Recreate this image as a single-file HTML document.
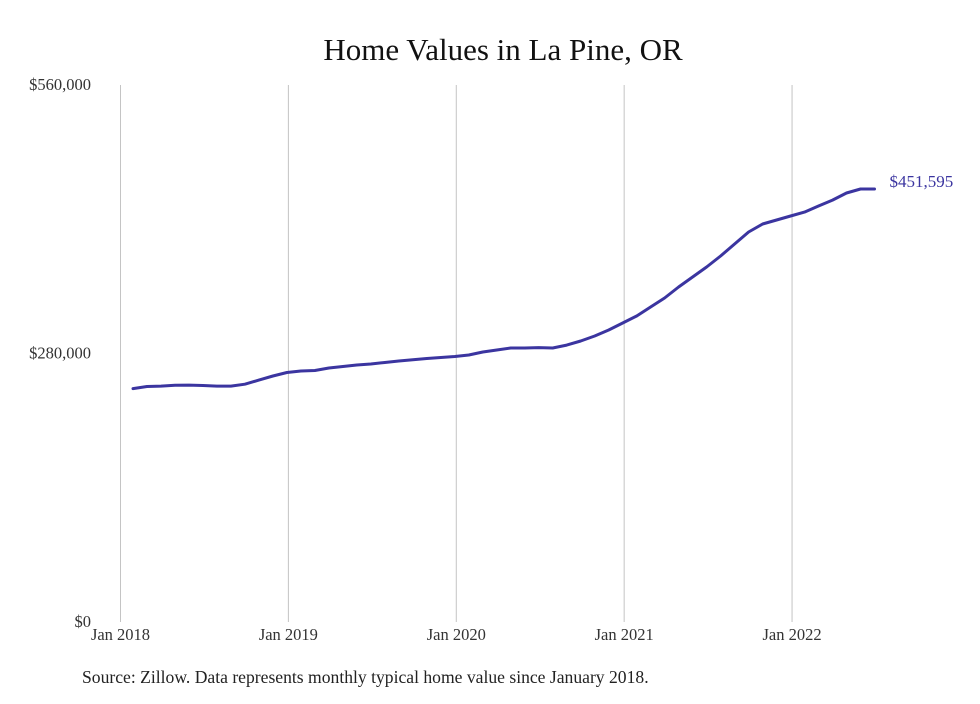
<!DOCTYPE html>
<html><head><meta charset="utf-8"><style>
body{margin:0;background:#fff;}
svg text{font-family:"Liberation Serif",serif;}
</style></head><body>
<svg width="980" height="699" id="c">
<text x="503" y="60" text-anchor="middle" font-size="31" fill="#111">Home Values in La Pine, OR</text>
<text x="82" y="683" font-size="17.6" fill="#222">Source: Zillow. Data represents monthly typical home value since January 2018.</text>
<g id="grid"></g><g id="yax"></g><g id="xax"></g><g id="ser"></g>
</svg>
<script>
const months=[1,2,3,4,5,6,7,8,9,10,11,12,13,14,15,16,17,18,19,20,21,22,23,24,25,26,27,28,29,30,31,32,33,34,35,36,37,38,39,40,41,42,43,44,45,46,47,48,49,50,51,52,53,54];
const values=[243400,245600,246000,246800,247000,246600,246000,246000,248000,252300,256500,260200,261700,262300,264900,266400,268000,269000,270600,272200,273400,274800,275800,276900,278400,281600,283600,285700,285700,286200,285700,288800,293000,298200,304500,311800,319100,328500,337900,349300,359800,370200,381700,394200,406700,415000,419200,423400,427500,433800,440000,447400,451500,451595];
const yTicks=[0,280000,560000];
const yTickLabels=["$0","$280,000","$560,000"];
const xTicks=[0,12,24,36,48];
const xTickLabels=["Jan 2018","Jan 2019","Jan 2020","Jan 2021","Jan 2022"];
const endLabel="$451,595";
const NS="http://www.w3.org/2000/svg";
const x=m=>120.5+m*(876-120.5)/54-1.5;
const y=v=>622-v*(622-85)/560000;
function mk(tag,attrs,parent){const e=document.createElementNS(NS,tag);for(const k in attrs)e.setAttribute(k,attrs[k]);document.getElementById(parent).appendChild(e);return e;}
xTicks.forEach((m,i)=>{
  const gx=120.5+m*(876-120.5)/54;
  const l=mk('line',{x1:gx,x2:gx,y1:85,y2:622,stroke:'#c4c4c4','stroke-width':1},'grid');
  
  
  const t=mk('text',{x:gx,y:640,'text-anchor':'middle','font-size':16.5,fill:'#333'},'xax');
  t.textContent=xTickLabels[i];
  
  
});
yTicks.forEach((v,i)=>{
  const t=mk('text',{x:91,y:y(v)+5,'text-anchor':'end','font-size':16.5,fill:'#333'},'yax');
  t.textContent=yTickLabels[i];
  
  
});
const d=months.map((m,i)=>(i?'L':'M')+x(m).toFixed(1)+','+y(values[i]).toFixed(1)).join(' ');
const p=mk('path',{d:d,fill:'none',stroke:'#3b35a0','stroke-width':3,'stroke-linejoin':'round','stroke-linecap':'round'},'ser');


const last=values.length-1;
const el=mk('text',{x:x(months[last])+15,y:y(values[last])-2,'font-size':17,fill:'#3b35a0'},'ser');
el.textContent=endLabel;


</script>
</body></html>
